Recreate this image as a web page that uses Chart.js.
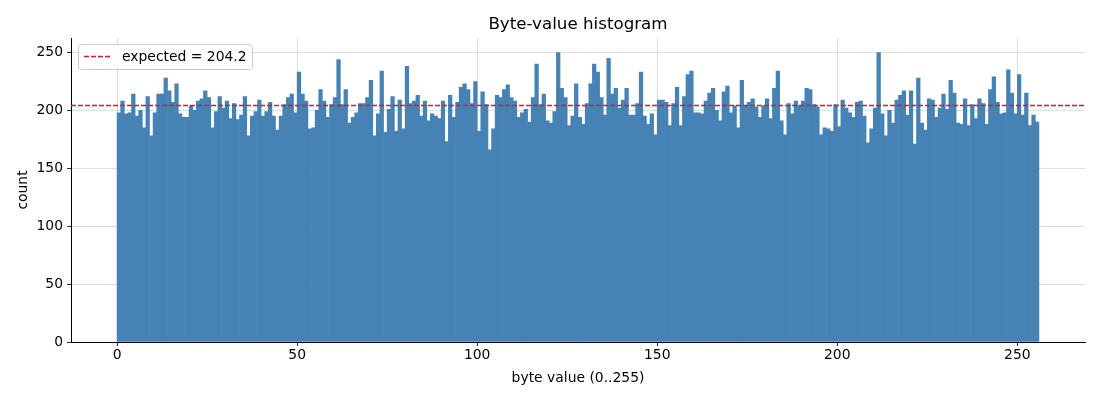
<!DOCTYPE html>
<html>
<head>
<meta charset="utf-8">
<script src="https://cdn.jsdelivr.net/npm/chart.js@4.4.0/dist/chart.umd.min.js"></script>
<style>
  html, body { margin: 0; padding: 0; background: #fff; }
  #wrap { width: 1100px; height: 400px; }
</style>
</head>
<body>
<div id="wrap"><canvas id="hist" width="1100" height="400"></canvas></div>
<script>
// one bin per byte value 0..255
const byteValues = Array.from({ length: 256 }, (_, i) => i);

// counts, bin by bin
const counts = [
  198, 208, 197, 198, 214, 195, 200, 185, 212, 178,
  198, 214, 214, 228, 217, 207, 223, 197, 194, 194,
  204, 200, 208, 210, 217, 211, 185, 199, 212, 202,
  208, 193, 206, 192, 196, 212, 178, 195, 199, 209,
  195, 199, 207, 195, 183, 195, 205, 211, 214, 198,
  233, 214, 208, 184, 185, 200, 218, 208, 194, 205,
  211, 244, 205, 218, 189, 194, 198, 206, 206, 211,
  226, 178, 197, 234, 181, 201, 212, 182, 209, 184,
  238, 206, 208, 213, 195, 208, 191, 197, 195, 193,
  208, 173, 213, 194, 207, 220, 223, 218, 206, 225,
  182, 216, 205, 166, 184, 213, 211, 218, 222, 211,
  208, 194, 198, 201, 190, 211, 240, 205, 214, 191,
  189, 199, 250, 219, 211, 187, 195, 223, 194, 188,
  206, 223, 240, 233, 211, 196, 245, 214, 219, 202,
  209, 219, 196, 196, 206, 233, 195, 188, 197, 179,
  209, 209, 207, 187, 206, 220, 187, 212, 231, 234,
  198, 198, 197, 208, 215, 219, 200, 191, 216, 221,
  198, 204, 185, 226, 204, 207, 210, 203, 194, 204,
  210, 193, 219, 234, 191, 179, 206, 197, 208, 204,
  208, 219, 218, 205, 203, 179, 185, 184, 182, 205,
  186, 209, 202, 198, 194, 207, 208, 195, 172, 184,
  202, 250, 197, 178, 200, 189, 209, 213, 217, 196,
  217, 171, 228, 189, 183, 210, 209, 194, 202, 214,
  201, 226, 215, 189, 188, 210, 187, 205, 193, 210,
  206, 188, 218, 229, 207, 197, 198, 235, 215, 197,
  231, 196, 215, 187, 196, 190
];

const expected = 204.2;
const xTicks = [0, 50, 100, 150, 200, 250];
const yTicks = [0, 50, 100, 150, 200, 250];

const xMin = -12.8, xMax = 268.8;
const yMax = 262.5;

const FONT = "'DejaVu Sans', sans-serif";
const GRID = 'rgba(176,176,176,0.4)';

// matplotlib-like legend box in the upper left of the plot area
const insideLegend = {
  id: 'insideLegend',
  afterDraw(chart) {
    const ctx = chart.ctx;
    const a = chart.chartArea;
    const x = a.left + 7, y = a.top + 6, w = 174, h = 25, r = 3;
    ctx.save();
    ctx.beginPath();
    ctx.roundRect(x + 0.5, y + 0.5, w, h, r);
    ctx.fillStyle = 'rgba(255,255,255,0.8)';
    ctx.fill();
    ctx.strokeStyle = '#cccccc';
    ctx.lineWidth = 1;
    ctx.stroke();

    ctx.beginPath();
    ctx.setLineDash([5, 2]);
    ctx.strokeStyle = '#dc143c';
    ctx.lineWidth = 1.4;
    ctx.moveTo(x + 6, y + 12.5);
    ctx.lineTo(x + 34, y + 12.5);
    ctx.stroke();
    ctx.setLineDash([]);

    ctx.fillStyle = '#000';
    ctx.font = '13.9px ' + FONT;
    ctx.textBaseline = 'middle';
    ctx.fillText('expected = ' + expected.toFixed(1), x + 44, y + 13);
    ctx.restore();
  }
};

const ctx = document.getElementById('hist').getContext('2d');

new Chart(ctx, {
  data: {
    datasets: [
      {
        type: 'line',
        label: 'expected = ' + expected.toFixed(1),
        data: [{ x: xMin, y: expected }, { x: xMax, y: expected }],
        borderColor: '#dc143c',
        borderWidth: 1.4,
        borderDash: [5, 2],
        pointRadius: 0,
        fill: false,
        order: 0
      },
      {
        type: 'bar',
        label: 'count',
        data: counts.map((c, i) => ({ x: byteValues[i] + 0.5, y: c })),
        backgroundColor: '#4682b4',
        borderWidth: 0,
        barPercentage: 1,
        categoryPercentage: 1,
        grouped: false,
        order: 1
      }
    ]
  },
  options: {
    responsive: false,
    devicePixelRatio: 1,
    animation: false,
    layout: { padding: { left: 0, right: 15, top: 0, bottom: 0 } },
    plugins: {
      legend: { display: false },
      tooltip: { enabled: false },
      title: {
        display: true,
        fullSize: false,
        text: 'Byte-value histogram',
        color: '#000',
        font: { family: FONT, size: 16.7, weight: 'normal' },
        padding: { top: 15, bottom: 3 }
      }
    },
    scales: {
      x: {
        type: 'linear',
        min: xMin,
        max: xMax,
        offset: false,
        z: 1,
        afterBuildTicks: (s) => { s.ticks = xTicks.map(v => ({ value: v })); },
        afterFit: (s) => { s.height = 58; },
        ticks: {
          color: '#000',
          font: { family: FONT, size: 13.9 },
          padding: 1,
          maxRotation: 0
        },
        grid: {
          offset: false,
          color: GRID,
          lineWidth: 1,
          tickLength: 4,
          tickColor: '#000',
          tickWidth: 0.8
        },
        border: { display: true, color: '#000', width: 1 },
        title: {
          display: true,
          text: 'byte value (0..255)',
          color: '#000',
          font: { family: FONT, size: 13.9 },
          padding: { top: 4, bottom: 13 }
        }
      },
      y: {
        min: 0,
        max: yMax,
        z: 1,
        afterBuildTicks: (s) => { s.ticks = yTicks.map(v => ({ value: v })); },
        afterFit: (s) => { s.width = 71; },
        ticks: {
          color: '#000',
          font: { family: FONT, size: 13.9 },
          padding: 4
        },
        grid: {
          color: GRID,
          lineWidth: 1,
          tickLength: 4,
          tickColor: '#000',
          tickWidth: 0.8
        },
        border: { display: true, color: '#000', width: 1 },
        title: {
          display: true,
          text: 'count',
          color: '#000',
          font: { family: FONT, size: 13.9 },
          padding: { top: 15, bottom: 0 }
        }
      }
    }
  },
  plugins: [insideLegend]
});
</script>
</body>
</html>
